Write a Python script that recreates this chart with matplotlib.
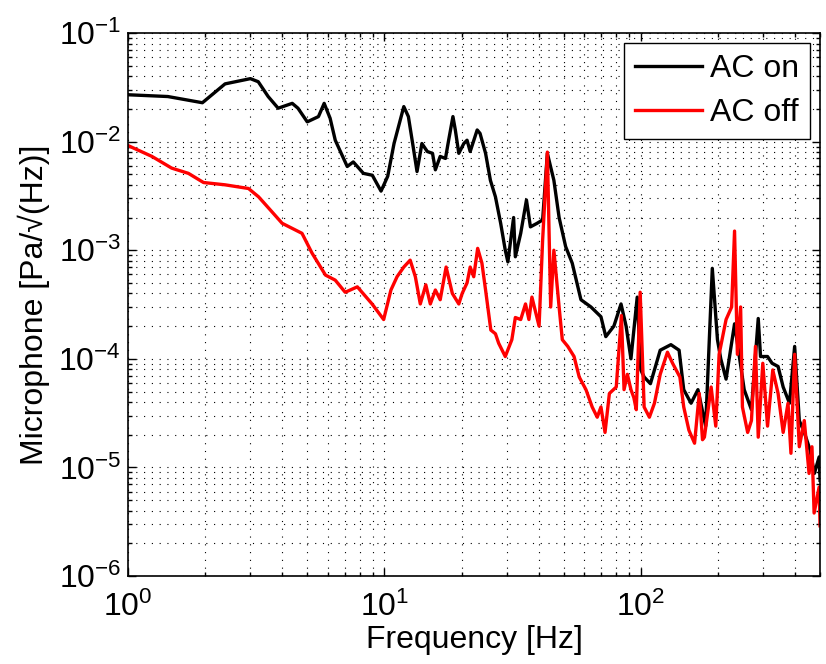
import matplotlib
matplotlib.use('Agg')
from matplotlib import pyplot as plt
import numpy as np

plt.rcParams['font.family'] = ['Liberation Sans', 'DejaVu Sans']
plt.rcParams['mathtext.fontset'] = 'custom'
plt.rcParams['mathtext.rm'] = 'Liberation Sans'
plt.rcParams['mathtext.default'] = 'regular'

# AC on (black)
f_on = [1.0, 1.43, 1.95, 2.39, 3.0, 3.22, 3.52, 3.85, 4.37, 4.6,
        5.0, 5.53, 5.82, 6.14, 6.43, 7.16, 7.56, 8.28, 8.97, 9.7,
        10.3, 10.9, 11.9, 12.4, 13.0, 13.4, 14.0, 14.7, 15.4, 15.8,
        16.5, 17.3, 17.8, 18.5, 18.9, 19.5, 20.4, 21.0, 21.6, 23.0,
        23.6, 24.8, 25.9, 27.1, 28.4, 29.6, 30.3, 31.9, 32.4, 34.0,
        35.8, 37.1, 39.4, 41.4, 43.2, 45.8, 48.0, 50.9, 54.0, 58.4,
        63.9, 69.9, 73.0, 78.5, 83.7, 87.6, 91.5, 96.8, 100, 103,
        109, 119, 131, 141, 147, 157, 167, 179, 190, 199,
        205, 215, 232, 253, 270, 287, 293, 312, 325, 343,
        359, 380, 398, 415, 434, 457, 475, 496, 500]
v_on = [0.027, 0.026, 0.0228, 0.034, 0.038, 0.0356, 0.026, 0.0203, 0.0225, 0.0203,
        0.0152, 0.017, 0.0225, 0.0164, 0.0103, 0.0059, 0.0065, 0.0051, 0.0049, 0.0035,
        0.0048, 0.0096, 0.021, 0.017, 0.0084, 0.0053, 0.0096, 0.0081, 0.0078, 0.0055,
        0.0073, 0.007, 0.0103, 0.017, 0.0128, 0.0078, 0.0096, 0.0103, 0.0081, 0.0128,
        0.0119, 0.0078, 0.0044, 0.0031, 0.00177, 0.001, 0.00078, 0.002, 0.00087, 0.00143,
        0.0029, 0.00164, 0.00177, 0.0019, 0.0078, 0.0044, 0.002, 0.00108, 0.00076, 0.00035,
        0.0003, 0.000244, 0.00016, 0.0002, 0.00032, 0.0002, 0.0001, 0.00037, 7.9e-5, 6.8e-5,
        5.9e-5, 1.2e-4, 1.35e-4, 1.2e-4, 5.2e-5, 3.9e-5, 5.2e-5, 2.4e-5, 6.8e-4, 1.5e-4,
        1.0e-4, 6.5e-5, 2.1e-4, 5.2e-5, 3.4e-5, 2.35e-4, 1.05e-4, 1.05e-4, 9.1e-5, 8.5e-5,
        5.5e-5, 3.9e-5, 1.3e-4, 2.7e-5, 2.1e-5, 1.45e-5, 8.8e-6, 1.25e-5, 7.6e-6]

# AC off (red)
f_off = [1.0, 1.24, 1.48, 1.72, 1.97, 2.39, 2.95, 3.23, 3.64, 3.99,
         4.77, 5.22, 5.89, 6.43, 7.03, 7.84, 8.95, 9.93, 10.6, 11.2,
         11.9, 12.6, 13.2, 13.8, 14.5, 15.1, 15.8, 16.5, 17.4, 18.4,
         19.5, 20.1, 21.0, 21.6, 22.3, 23.1, 24.0, 24.8, 26.0, 27.1,
         27.9, 29.6, 31.4, 32.4, 34.0, 35.5, 36.6, 37.6, 40.1, 41.4,
         43.2, 44.5, 45.8, 48.0, 49.4, 51.9, 54.9, 57.5, 61.1, 64.6,
         67.6, 69.9, 72.5, 75.4, 80.2, 84.0, 86.0, 88.6, 91.5, 93.9,
         96.0, 99.4, 103, 108, 113, 119, 127, 133, 142, 147,
         154, 162, 169, 174, 177, 188, 196, 202, 215, 226,
         232, 238, 245, 249, 261, 270, 280, 287, 299, 312,
         327, 343, 359, 375, 385, 398, 415, 434, 453, 465,
         474, 496, 500]
v_off = [0.0092, 0.0073, 0.0057, 0.0051, 0.0042, 0.004, 0.0037, 0.0031, 0.00226, 0.00177,
         0.00143, 0.00094, 0.00059, 0.00053, 0.00041, 0.00046, 0.00032, 0.00023, 0.00043, 0.00057,
         0.0007, 0.00081, 0.00057, 0.00032, 0.00048, 0.00032, 0.00043, 0.00035, 0.0007, 0.0004,
         0.00032, 0.0004, 0.0005, 0.0007, 0.00057, 0.00104, 0.00076, 0.00043, 0.000184, 0.00017,
         0.000139, 0.000105, 0.00015, 0.00024, 0.00023, 0.00032, 0.00023, 0.00037, 0.0002, 0.00124,
         0.008, 0.0003, 0.001, 0.0003, 0.00015, 0.00013, 0.000105, 6.8e-5, 5.2e-5, 3.6e-5,
         2.9e-5, 3.6e-5, 2.1e-5, 4.8e-5, 5.5e-5, 2.5e-4, 5.2e-5, 7.2e-5, 5.2e-5, 4.4e-5,
         3.4e-5, 4.1e-4, 3.6e-5, 2.9e-5, 3.9e-5, 7.2e-5, 1.15e-4, 9.1e-5, 6.8e-5, 3.6e-5,
         2.2e-5, 1.67e-5, 4.8e-5, 1.8e-5, 1.9e-5, 5.5e-5, 2.4e-5, 1.1e-4, 2.3e-4, 3.0e-4,
         1.5e-3, 1.1e-4, 3.0e-4, 3.6e-5, 2.1e-5, 2.7e-5, 1.3e-4, 1.9e-5, 9.1e-5, 2.4e-5,
         7.9e-5, 4.8e-5, 2.1e-5, 3.9e-5, 1.35e-5, 1.1e-4, 1.55e-5, 2.7e-5, 8.8e-6, 1.55e-5,
         3.8e-6, 6.6e-6, 2.9e-6]

fs = 23
fig = plt.figure(figsize=(8.26, 6.64), dpi=100)
ax = fig.add_axes([0.155, 0.1325, 0.8378, 0.8178])

ax.loglog(f_on, v_on, color='k', lw=2.4, label='AC on')
ax.loglog(f_off, v_off, color='r', lw=2.4, label='AC off')

ax.set_xlim(1, 500)
ax.set_ylim(1e-6, 1e-1)

# MATLAB-like dotted grid
ax.grid(True, which='major', color='k', linestyle=(0, (1, 6)), lw=0.8)
ax.grid(True, which='minor', color='k', linestyle=(0, (1, 6)), lw=0.8)

ax.tick_params(which='both', direction='in', top=True, right=True, labelsize=fs)
ax.tick_params(which='major', length=6, width=1)
ax.tick_params(which='minor', length=3, width=1)
ax.tick_params(axis='x', which='major', pad=11)
ax.tick_params(axis='y', which='major', pad=5)
for s in ax.spines.values():
    s.set_linewidth(1.2)

ax.set_xlabel('Frequency [Hz]', fontsize=fs, labelpad=2)
ax.set_ylabel('Microphone [Pa/\u221a(Hz)]', fontsize=fs, labelpad=6)

leg = ax.legend(loc='upper right', fontsize=fs, fancybox=False, edgecolor='k',
                framealpha=1, borderaxespad=0.3, handlelength=2.1,
                handletextpad=0.25, borderpad=0.35, labelspacing=0.45)
leg.get_frame().set_linewidth(1)

fig.savefig('out.png', dpi=100)
